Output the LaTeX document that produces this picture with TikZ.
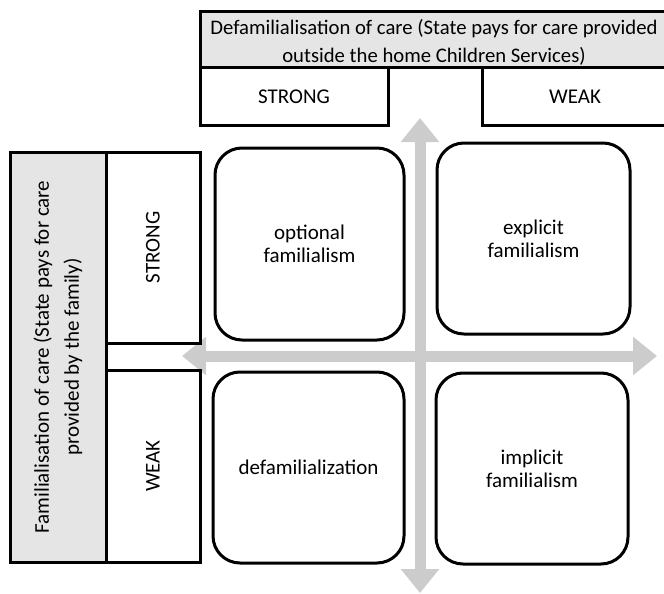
\documentclass[tikz,border=0pt]{standalone}
\usepackage{fontspec}
\setmainfont{Carlito}
\usetikzlibrary{arrows.meta, positioning}

\tikzset{
  cell/.style={draw, line width=3pt, inner sep=0pt, align=center,
               font=\fontsize{21}{27}\selectfont},
  headcell/.style={cell, fill=gray!20},
  quad/.style={cell, rounded corners=27pt, font=\fontsize{21}{23}\selectfont},
  axis/.style={line width=11pt, draw=gray!40,
               {Triangle[length=24pt, width=37pt]}-{Triangle[length=24pt, width=37pt]}}
}

\begin{document}
\begin{tikzpicture}[x=1pt, y=-1pt]
\useasboundingbox (0,0) rectangle (664,594);

% axes
\coordinate (top) at (420,118);
\coordinate (bottom) at (420,593);
\coordinate (left) at (182,356);
\coordinate (right) at (657,356);
\draw[axis] (top) -- (bottom);
\draw[axis] (left) -- (right);

% header on top
\node[headcell, minimum width=468, minimum height=56,
      font=\fontsize{20.7}{28}\selectfont] (defam) at (434,40)
  {\rule{0pt}{20pt}Defamilialisation of care (State pays for care provided\\outside the home Children Services)};
\node[cell, minimum width=188, minimum height=57] (dstrong) at (294,96.5) {STRONG};
\node[cell, minimum width=186, minimum height=57] (dweak) at (575,96.5) {WEAK};

% header on the left
\node[headcell, rotate=90, minimum width=410, minimum height=96,
      font=\fontsize{21}{30}\selectfont] (fam) at (58,357)
  {Familialisation of care (State pays for care\\provided by the family)};
\node[cell, rotate=90, minimum width=191, minimum height=94] (fstrong) at (153,247.5) {STRONG};
\node[cell, rotate=90, minimum width=192, minimum height=94] (fweak) at (153,466) {WEAK};

% quadrants
\node[quad, minimum width=189, minimum height=192] (optional) at (309.5,244) {optional\\familialism};
\node[quad, minimum width=193, minimum height=191] (explicit) at (533.5,238.5) {explicit\\familialism};
\node[quad, minimum width=191, minimum height=191] (defamq) at (308.5,467.5) {defamilialization};
\node[quad, minimum width=192, minimum height=191] (implicit) at (532,468.5) {implicit\\familialism};
\end{tikzpicture}
\end{document}
